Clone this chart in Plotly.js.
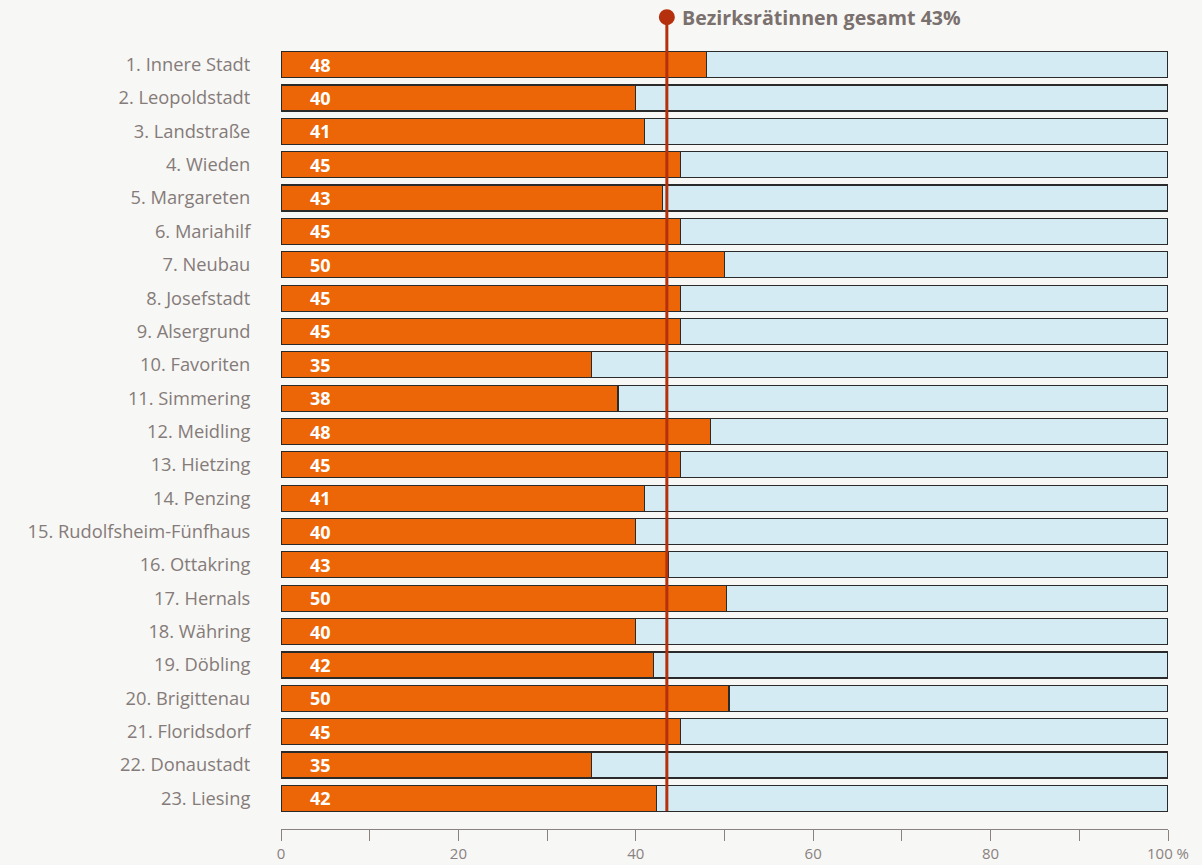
<!DOCTYPE html>
<html>
<head>
<meta charset="utf-8">
<script src="https://cdn.plot.ly/plotly-3.0.1.min.js"></script>
<style>
  html, body { margin: 0; padding: 0; background: #f7f7f5; }
  #chart { width: 1202px; height: 865px; }
</style>
</head>
<body>
<div id="chart"></div>
<script>
// ---- data ----
const districts = [
  "1. Innere Stadt", "2. Leopoldstadt", "3. Landstraße", "4. Wieden", "5. Margareten",
  "6. Mariahilf", "7. Neubau", "8. Josefstadt", "9. Alsergrund", "10. Favoriten",
  "11. Simmering", "12. Meidling", "13. Hietzing", "14. Penzing", "15. Rudolfsheim-Fünfhaus",
  "16. Ottakring", "17. Hernals", "18. Währing", "19. Döbling", "20. Brigittenau",
  "21. Floridsdorf", "22. Donaustadt", "23. Liesing"
];
const womenShare = [
  48.0, 40.0, 41.0, 45.0, 43.0,
  45.0, 50.0, 45.0, 45.0, 35.0,
  38.0, 48.4, 45.0, 41.0, 40.0,
  43.7, 50.2, 40.0, 42.0, 50.5,
  45.0, 35.0, 42.3
];
const shareLabels = [
  "48", "40", "41", "45", "43",
  "45", "50", "45", "45", "35",
  "38", "48", "45", "41", "40",
  "43", "50", "40", "42", "50",
  "45", "35", "42"
];
const totalShare = 43.5;
const totalLabel = "Bezirksrätinnen gesamt 43%";
const xTickVals = [0, 10, 20, 30, 40, 50, 60, 70, 80, 90, 100];
const xTickText = ["0", "", "20", "", "40", "", "60", "", "80", "", "100 %"];

// ---- styles ----
const ORANGE = "#ec6608";
const LIGHT = "#d5ebf4";
const OUTLINE = "#2a2a2a";
const RED = "#b5310e";
const GREY = "#857b79";
const FONT = "Open Sans, Noto Sans, sans-serif";

const rest = womenShare.map(v => 100 - v);

const traces = [
  {
    type: "bar", orientation: "h",
    y: districts, x: womenShare,
    marker: { color: ORANGE, line: { color: OUTLINE, width: 1.2 } },
    hoverinfo: "skip", showlegend: false
  },
  {
    type: "bar", orientation: "h",
    y: districts, x: rest,
    marker: { color: LIGHT, line: { color: OUTLINE, width: 1.2 } },
    hoverinfo: "skip", showlegend: false
  }
];

const annotations = districts.map((d, i) => ({
  x: 4.5, y: d, xref: "x", yref: "y",
  text: "<b>" + shareLabels[i] + "</b>",
  showarrow: false, xanchor: "center", yanchor: "middle",
  font: { family: FONT, size: 18, color: "#ffffff" }
}));

annotations.push({
  x: totalShare, xref: "x", y: 1.0395, yref: "paper",
  xshift: 13, text: "<b>" + totalLabel + "</b>",
  showarrow: false, xanchor: "left", yanchor: "middle",
  font: { family: FONT, size: 19.6, color: "#7a706e" }
});

const layout = {
  width: 1202, height: 865,
  paper_bgcolor: "#f7f7f5", plot_bgcolor: "#f7f7f5",
  margin: { l: 281, r: 34, t: 48, b: 36 },
  barmode: "stack", bargap: 0.22,
  font: { family: FONT, color: GREY },
  xaxis: {
    range: [0, 100], fixedrange: true,
    tickvals: xTickVals, ticktext: xTickText,
    ticks: "outside", ticklen: 11, tickwidth: 1, tickcolor: "#8a8280",
    showline: true, linecolor: "#8a8280", linewidth: 1,
    showgrid: false, zeroline: false,
    tickfont: { family: FONT, size: 15, color: "#8a8280" }
  },
  yaxis: {
    type: "category",
    range: [22.92, -0.5], fixedrange: true,
    ticks: "outside", ticklen: 26, tickcolor: "rgba(0,0,0,0)",
    showline: false, showgrid: false, zeroline: false,
    tickfont: { family: FONT, size: 18.3, color: GREY }
  },
  shapes: [
    {
      type: "line", xref: "x", yref: "paper",
      x0: totalShare, x1: totalShare, y0: 0.023, y1: 1.0395,
      line: { color: RED, width: 3 }, layer: "above"
    },
    {
      type: "circle", xref: "x", yref: "paper",
      xsizemode: "pixel", ysizemode: "pixel",
      xanchor: totalShare, yanchor: 1.0395,
      x0: -8, x1: 8, y0: -8, y1: 8,
      fillcolor: RED, line: { width: 0 }, layer: "above"
    }
  ],
  annotations: annotations
};

Plotly.newPlot("chart", traces, layout, { displayModeBar: false, staticPlot: true });
</script>
</body>
</html>
